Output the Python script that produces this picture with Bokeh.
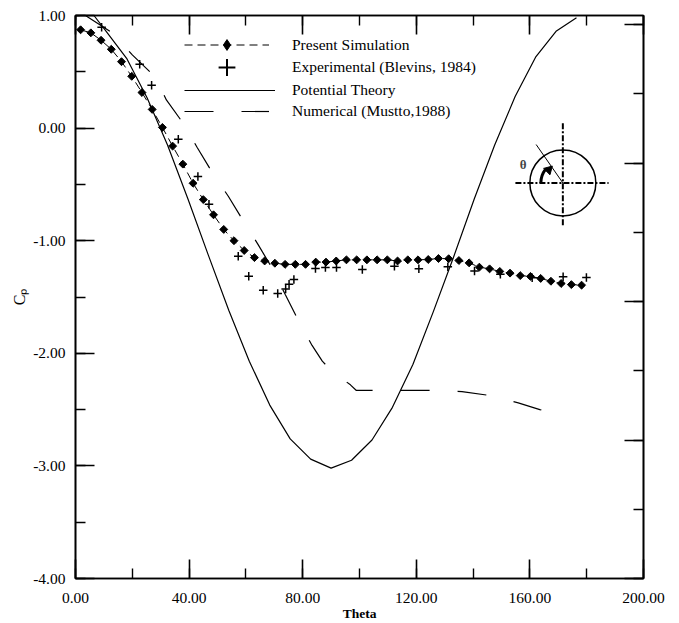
import numpy as np
from bokeh.plotting import figure
from bokeh.models import (Range1d, LinearAxis, SingleIntervalTicker, PrintfTickFormatter,
                          CustomJSTickFormatter, Legend, LegendItem, Label)
from bokeh.embed import file_html
from bokeh.resources import INLINE

# ---------------- data ----------------
sim_theta = [1.8, 5.4, 9.0, 12.6, 16.2, 19.8, 23.4, 27.0, 30.6, 34.2, 37.8, 41.4, 45.0,
             48.6, 52.2, 55.8, 59.4, 63.0, 66.6, 70.2, 73.8, 77.4, 81.0, 84.6, 88.2,
             91.8, 95.4, 99.0, 102.6, 106.2, 109.8, 113.4, 117.0, 120.6, 124.2, 127.8,
             131.4, 135.0, 138.6, 142.2, 145.8, 149.4, 153.0, 156.6, 160.2, 163.8, 167.4,
             171.0, 174.6, 178.2]
sim_cp = [0.873, 0.846, 0.78, 0.70, 0.59, 0.46, 0.316, 0.166, 0.006, -0.16, -0.32, -0.49,
          -0.635, -0.77, -0.90, -1.00, -1.087, -1.15, -1.18, -1.20, -1.21, -1.21, -1.21,
          -1.19, -1.19, -1.18, -1.17, -1.17, -1.17, -1.17, -1.17, -1.18, -1.17, -1.17,
          -1.167, -1.158, -1.16, -1.176, -1.197, -1.235, -1.25, -1.273, -1.288, -1.31,
          -1.317, -1.335, -1.36, -1.38, -1.39, -1.395]

exp_theta = [0.0, 9.2, 22.6, 26.8, 36.2, 43.1, 47.0, 57.3, 61.0, 66.1, 71.2, 74.0, 75.2,
             76.9, 84.5, 88.0, 91.9, 101.0, 112.3, 120.9, 131.1, 140.5, 149.6, 160.8,
             171.7, 179.9]
exp_cp = [1.0, 0.895, 0.567, 0.38, -0.10, -0.43, -0.676, -1.137, -1.315, -1.44, -1.47,
          -1.43, -1.386, -1.344, -1.247, -1.237, -1.237, -1.255, -1.226, -1.25, -1.232,
          -1.268, -1.297, -1.33, -1.32, -1.326]

pot_theta = [0.0, 6.5, 10.8, 18.0, 25.2, 32.4, 39.6, 46.8, 54.0, 61.2, 68.4, 75.6, 82.8,
             90.0, 97.2, 104.4, 111.6, 118.8, 126.0, 133.2, 140.4, 147.6, 154.8, 162.0,
             169.2, 176.4]
pot_cp = [1.0, 1.0, 0.86, 0.62, 0.27, -0.15, -0.63, -1.13, -1.62, -2.07, -2.46, -2.76,
          -2.94, -3.02, -2.95, -2.77, -2.48, -2.10, -1.63, -1.14, -0.63, -0.15, 0.28,
          0.63, 0.86, 0.98]

num_theta = [3.5, 13.4, 20.0, 28.0, 32.0, 38.0, 42.8, 48.3, 53.8, 59.0, 64.2, 69.6, 73.9,
             78.3, 83.3, 86.9, 89.2, 93.0, 96.8, 98.9, 106.2, 115.8, 126.4, 136.1, 145.9,
             155.9, 163.5, 165.3]
num_cp = [1.0, 0.84, 0.65, 0.456, 0.25, 0.04, -0.17, -0.40, -0.605, -0.82, -1.03, -1.26,
          -1.48, -1.70, -1.93, -2.07, -2.13, -2.21, -2.28, -2.33, -2.33, -2.33, -2.33,
          -2.34, -2.375, -2.44, -2.50, -2.51]

legend_labels = ["Present Simulation", "Experimental (Blevins, 1984)",
                 "Potential Theory", "Numerical (Mustto,1988)"]

FONT = "Liberation Serif"

p = figure(width=679, height=623, output_backend="svg", toolbar_location=None,
           x_range=Range1d(0, 200), y_range=Range1d(-4, 1),
           min_border_left=75, min_border_right=36, min_border_top=15, min_border_bottom=44,
           x_axis_location=None, y_axis_location=None)
p.grid.visible = False
p.outline_line_color = "black"
p.outline_line_width = 1.6
p.background_fill_color = "white"
p.border_fill_color = "white"

p.extra_y_ranges = {"r": Range1d(0, 4.065)}

blank = CustomJSTickFormatter(code="return ''")


def style_axis(ax, labels=True):
    ax.axis_line_color = "black"
    ax.axis_line_width = 1.6
    ax.major_tick_line_color = "black"
    ax.minor_tick_line_color = "black"
    ax.major_tick_line_width = 1.6
    ax.minor_tick_line_width = 1.4
    ax.major_tick_in = 19
    ax.major_tick_out = 0
    ax.minor_tick_in = 10
    ax.minor_tick_out = 0
    ax.major_label_text_font = FONT
    ax.major_label_text_font_size = "15.5px"
    ax.major_label_text_color = "black"
    if labels:
        ax.major_label_standoff = 9
    else:
        ax.formatter = blank
        ax.major_label_standoff = 0


xb = LinearAxis(ticker=SingleIntervalTicker(interval=40, num_minor_ticks=2),
                formatter=PrintfTickFormatter(format="%.2f"))
style_axis(xb)
xb.major_label_standoff = 14
xb.axis_label = "Theta"
xb.axis_label_text_font = FONT
xb.axis_label_text_font_size = "13.5px"
xb.axis_label_text_font_style = "bold"
xb.axis_label_text_color = "black"
xb.axis_label_standoff = 0
p.add_layout(xb, "below")

xt = LinearAxis(ticker=SingleIntervalTicker(interval=40, num_minor_ticks=2))
style_axis(xt, labels=False)
p.add_layout(xt, "above")

yl = LinearAxis(ticker=SingleIntervalTicker(interval=1, num_minor_ticks=2),
                formatter=PrintfTickFormatter(format="%.2f"))
style_axis(yl)
yl.major_label_standoff = 10
yl.axis_label = "Cₚ"
yl.axis_label_text_font = FONT
yl.axis_label_text_font_size = "16px"
yl.axis_label_text_font_style = "normal"
yl.axis_label_text_color = "black"
yl.axis_label_standoff = 2
p.add_layout(yl, "left")

yr = LinearAxis(y_range_name="r", ticker=SingleIntervalTicker(interval=1, num_minor_ticks=2))
style_axis(yr, labels=False)
p.add_layout(yr, "right")

# ---------------- series ----------------
pot = p.line(pot_theta, pot_cp, line_color="black", line_width=1.2)
num = p.line(num_theta, num_cp, line_color="black", line_width=1.2, line_dash="29 28")
p.line(sim_theta, sim_cp, line_color="black", line_width=1, line_dash="8 5")
p.scatter(sim_theta, sim_cp, marker="square", angle=np.pi / 4, size=5.6,
          fill_color="black", line_color="black", line_width=1)
p.scatter(exp_theta, exp_cp, marker="cross", size=8.5, line_color="black", line_width=1.5)

# legend-only renderers (no visible data)
lg_line = p.line(x=[np.nan], y=[np.nan], line_color="black", line_width=1, line_dash="8 5")
lg_dia = p.scatter(x=[np.nan], y=[np.nan], marker="diamond",
                   fill_color="black", line_color="black")
lg_cross = p.scatter(x=[np.nan], y=[np.nan], marker="cross", line_color="black",
                     line_width=2)

# one legend per row so each row can have its own marker size
rows = [
    (legend_labels[0], [lg_line, lg_dia], 27, 85, 520),
    (legend_labels[1], [lg_cross], 42, 85, 490),
    (legend_labels[2], [pot], 22, 91, 477),
    (legend_labels[3], [num], 22, 85, 456),
]
for lab, rends, gh, gw, ypos in rows:
    lg = Legend(items=[LegendItem(label=lab, renderers=rends)],
                location=(109, ypos), padding=0, margin=0, spacing=0,
                glyph_width=gw, glyph_height=gh, label_height=gh, label_standoff=108 - gw,
                label_text_font=FONT, label_text_font_size="15.5px", label_text_color="black",
                background_fill_alpha=0, border_line_alpha=0)
    p.add_layout(lg, "center")

# ---------------- inset sketch (decoration) ----------------
cx, cy = 171.6, -0.487
p.scatter([cx], [cy], marker="circle", size=66, fill_color=None, line_color="black", line_width=1.5)
p.line([154.9, 187.7], [cy, cy], line_color="black", line_width=2, line_dash="6 2 2 2")
p.line([cx, cx], [0.043, -0.862], line_color="black", line_width=2, line_dash="6 2 2 2")
p.line([cx, 162.2], [cy, -0.146], line_color="black", line_width=1)
p.arc(x=[cx], y=[cy], radius=22, radius_units="screen", start_angle=np.deg2rad(143),
      end_angle=np.pi, line_color="black", line_width=3)
p.scatter([166.6], [-0.37], marker="triangle", size=9, angle=np.deg2rad(-45),
          fill_color="black", line_color="black")
p.add_layout(Label(x=157.6, y=-0.321, text="θ", text_font=FONT, text_font_size="13px",
                   text_font_style="bold", text_align="center", text_baseline="middle"))

open("out.html", "w").write(file_html(p, INLINE))
